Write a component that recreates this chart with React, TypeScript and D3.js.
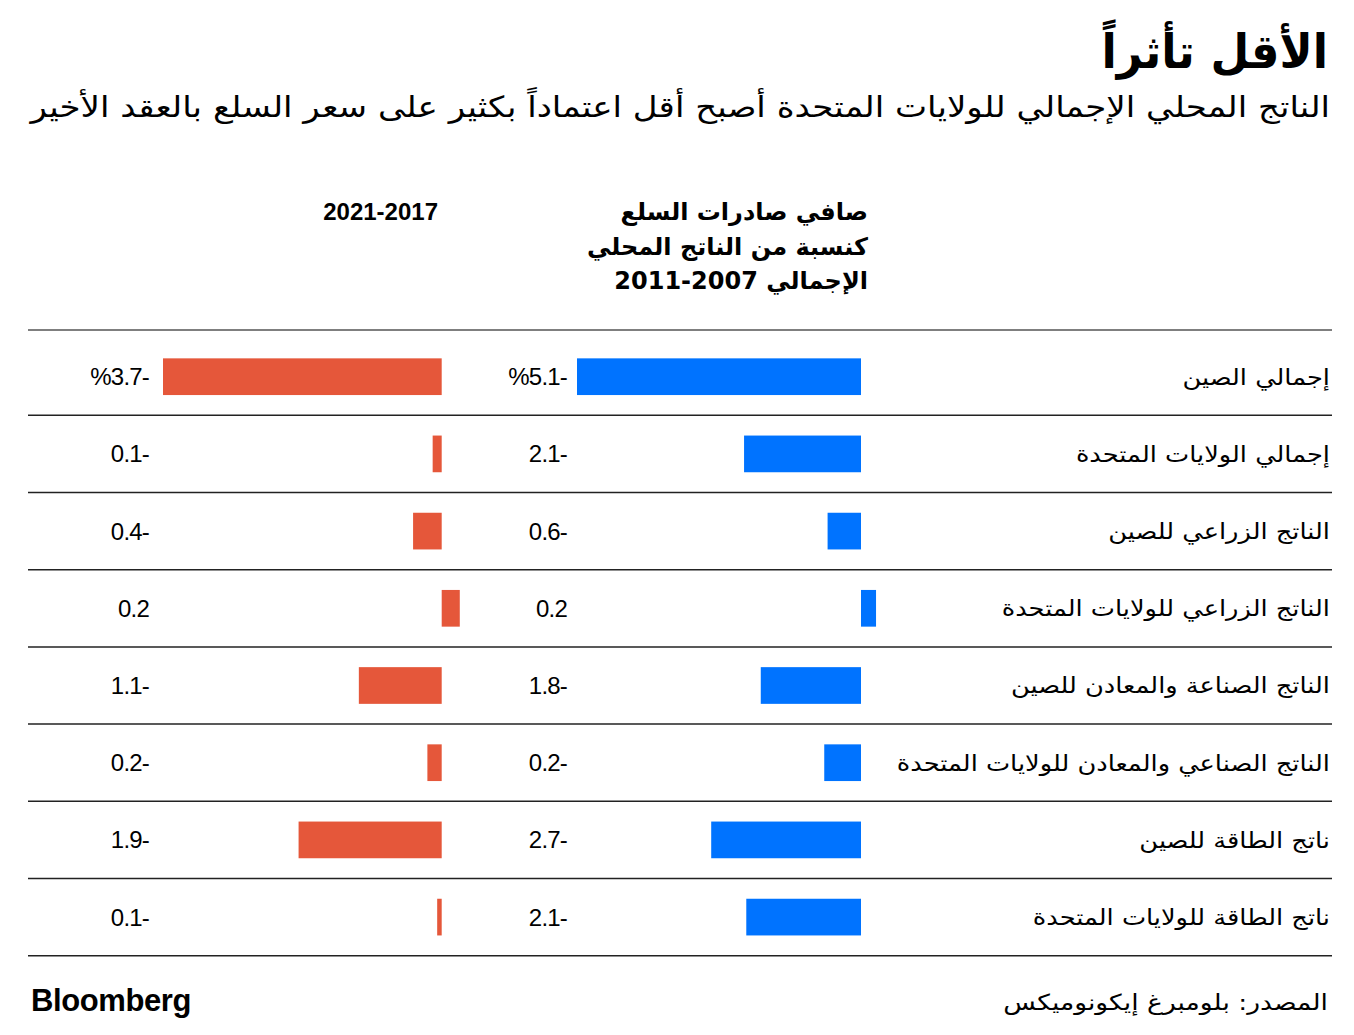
import React, { useEffect } from "react";
import * as d3 from "d3";

const categories = [
  "إجمالي الصين",
  "إجمالي الولايات المتحدة",
  "الناتج الزراعي للصين",
  "الناتج الزراعي للولايات المتحدة",
  "الناتج الصناعة والمعادن للصين",
  "الناتج الصناعي والمعادن للولايات المتحدة",
  "ناتج الطاقة للصين",
  "ناتج الطاقة للولايات المتحدة",
];

// bar lengths as drawn in the picture
const values2007 = [-5.1, -2.1, -0.6, 0.27, -1.8, -0.66, -2.69, -2.06];
const values2017 = [-3.7, -0.12, -0.38, 0.24, -1.1, -0.19, -1.9, -0.06];

// value labels as printed
const labels2007 = ["%5.1-", "2.1-", "0.6-", "0.2", "1.8-", "0.2-", "2.7-", "2.1-"];
const labels2017 = ["%3.7-", "0.1-", "0.4-", "0.2", "1.1-", "0.2-", "1.9-", "0.1-"];

const headerBlue = ["صافي صادرات السلع", "كنسبة من الناتج المحلي", "2011-2007 الإجمالي"];
const headerRed = "2021-2017";

const title = "الأقل تأثراً";
const subtitle =
  "الناتج المحلي الإجمالي للولايات المتحدة أصبح أقل اعتماداً بكثير على سعر السلع بالعقد الأخير";
const source = "المصدر: بلومبرغ إيكونوميكس";

const W = 1354;
const H = 1035;
const AR = "'DejaVu Sans', 'Noto Sans', sans-serif";
const NUM = "'Liberation Sans', Arial, sans-serif";
const BLUE = "#0073FF";
const RED = "#E5573A";

const stretch = (x: number, k: number) => `translate(${x},0) scale(${k},1) translate(${-x},0)`;

export default function App() {
  useEffect(() => {
    document.body.style.margin = "0";
  }, []);

  const y = d3.scaleBand<string>().domain(categories).range([338.1, 955.7]).paddingInner(0);
  const xBlue = d3.scaleLinear().domain([-5.1, 0]).range([577, 861]);
  const xRed = d3.scaleLinear().domain([-3.7, 0]).range([163, 441.7]);
  const barH = 36.7;

  const lines = [330, ...categories.map((c) => (y(c) as number) + y.bandwidth())];

  return (
    <svg width={W} height={H} viewBox={`0 0 ${W} ${H}`} style={{ display: "block", background: "#fff" }}>
      <text x={1328} y={68} textAnchor="end" fontFamily={AR} fontWeight="bold" fontSize={47} fill="#000" transform={stretch(1328, 0.95)}>
        {title}
      </text>
      <text x={1330} y={117} textAnchor="end" fontFamily={AR} fontSize={29} fill="#000" transform={stretch(1330, 1.175)}>
        {subtitle}
      </text>

      {headerBlue.map((t, i) => (
        <text key={i} x={868} y={220 + i * 34.5} textAnchor="end" fontFamily={AR} fontWeight="bold" fontSize={24} fill="#000">
          {t}
        </text>
      ))}
      <text x={438} y={220} textAnchor="end" fontFamily={NUM} fontWeight="bold" fontSize={24} fill="#000">
        {headerRed}
      </text>

      {lines.map((ly, i) => (
        <line key={i} x1={28} x2={1332} y1={ly} y2={ly} stroke={i === 0 ? "#555" : "#222"} strokeWidth={1.5} />
      ))}

      {categories.map((c, i) => {
        const cy = (y(c) as number) + y.bandwidth() / 2;
        const vb = values2007[i];
        const vr = values2017[i];
        return (
          <g key={c}>
            <text x={1330} y={cy + 8} textAnchor="end" fontFamily={AR} fontSize={22} fill="#000" transform={stretch(1330, 1.167)}>
              {c}
            </text>
            <rect
              x={Math.min(xBlue(vb), xBlue(0))}
              y={cy - barH / 2}
              width={Math.abs(xBlue(vb) - xBlue(0))}
              height={barH}
              fill={BLUE}
            />
            <rect
              x={Math.min(xRed(vr), xRed(0))}
              y={cy - barH / 2}
              width={Math.abs(xRed(vr) - xRed(0))}
              height={barH}
              fill={RED}
            />
            <text x={567} y={cy + 8.5} textAnchor="end" fontFamily={NUM} fontSize={24} fill="#000" letterSpacing={-0.8}>
              {labels2007[i]}
            </text>
            <text x={149} y={cy + 8.5} textAnchor="end" fontFamily={NUM} fontSize={24} fill="#000" letterSpacing={-0.8}>
              {labels2017[i]}
            </text>
          </g>
        );
      })}

      <text x={31} y={1011} fontFamily={NUM} fontWeight="bold" fontSize={31} letterSpacing={-0.4} fill="#000">
        Bloomberg
      </text>
      <text x={1328} y={1010} textAnchor="end" fontFamily={AR} fontSize={22} fill="#000" transform={stretch(1328, 1.21)}>
        {source}
      </text>
    </svg>
  );
}
